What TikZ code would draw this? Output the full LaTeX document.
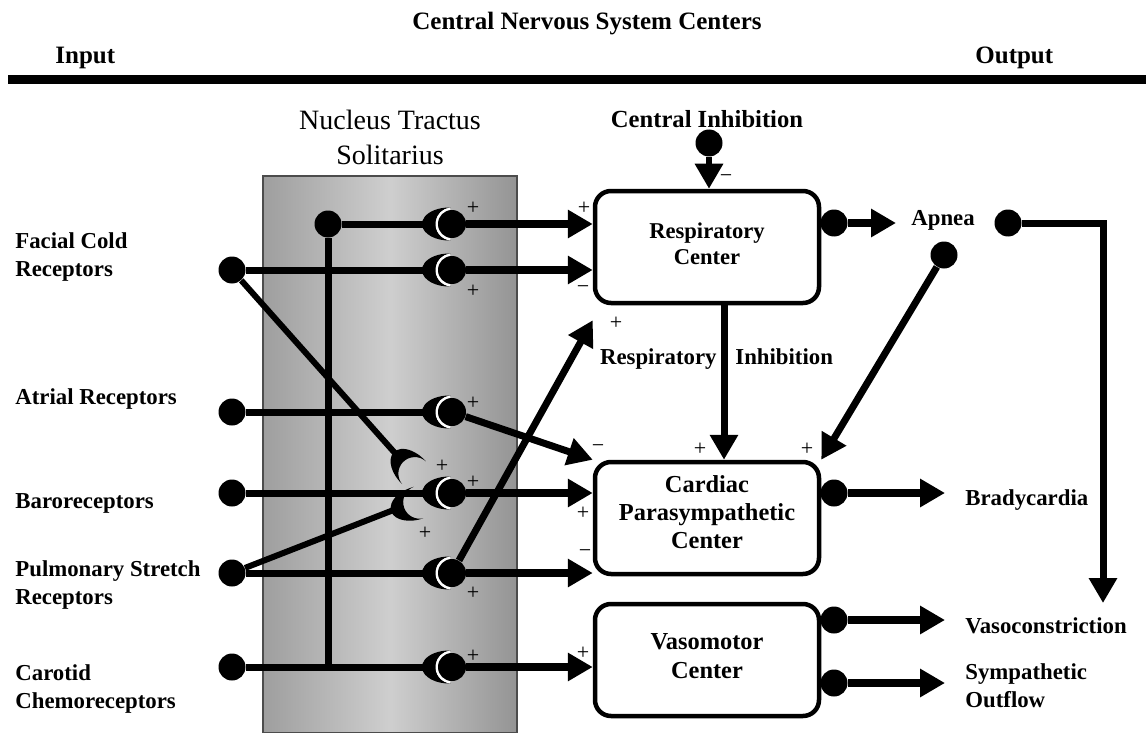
\documentclass[tikz,border=0pt]{standalone}
\usepackage{fontspec}
\setmainfont{Liberation Serif}
\usetikzlibrary{arrows.meta,backgrounds,positioning}
\tikzset{>={Triangle[length=12.5pt,width=13.5pt]}, % big solid heads
every node/.style={font=\bfseries\fontsize{11.4}{14.2}\selectfont},
heading/.style={font=\bfseries\fontsize{12.5}{15}\selectfont},
title/.style={font=\fontsize{14}{17.5}\selectfont, align=center},
dot/.style={circle, fill, inner sep=0pt, minimum size=13.5pt},
bulb/.style={dot, minimum size=14pt},
center box/.style={draw, line width=2.25pt, rounded corners=8pt, minimum width=112pt, minimum height=56pt, align=center,
  font=\bfseries\fontsize{12.2}{14.2}\selectfont},
lbl/.style={anchor=west, align=left, inner sep=0pt},
sign/.style={font=\fontsize{11}{12}\selectfont, inner sep=0pt},
feed/.style={line width=3.5pt}, % afferent fibres
relay/.style={->, line width=4pt}, % efferent fibres
cup/.pic={\fill (28.86,16.46) arc[start angle=86.05, end angle=273.95, x radius=27, y radius=16.5]
  arc[start angle=266.04, end angle=93.96, radius=16.5] -- cycle;},
cup gap/.pic={\pic {cup};
  \draw[white, line width=1.25pt] (30,0) ++(97:15.25) arc[start angle=97, end angle=263, radius=15.25];},
}
\begin{document}
\begin{tikzpicture}[x=0.5pt, y=-0.5pt]
\useasboundingbox (0,0) rectangle (1146,733);
\node[heading] (cns) at (587,24) {Central Nervous System Centers};
\node[heading, lbl] (input) at (55,58) {Input};
\node[heading, lbl] (output) at (975,58) {Output};
\draw[line width=4.5pt] (8,80) -- (1146,80);
\node[title] (nts) at (390,137) {Nucleus Tractus\\Solitarius};

% receptors
\node[lbl] (fcr-t) at (15,257) {Facial Cold\\Receptors};
\node[lbl] (ar-t) at (15,399) {Atrial Receptors};
\node[lbl] (br-t) at (15,503) {Baroreceptors};
\node[lbl] (psr-t) at (15,585) {Pulmonary Stretch\\Receptors};
\node[lbl] (cc-t) at (15,689) {Carotid\\Chemoreceptors};
\node[dot] (fcr) at (232,270) {};
\node[dot] (ar) at (232,412) {};
\node[dot] (br) at (232,493) {};
\node[dot] (psr) at (232,573) {};
\node[dot] (cc) at (232,667) {};
\node[dot] (cdot) at (328,224) {};

% synapses
\foreach \n/\y in {1/224,2/270,3/412,4/493,5/573,6/667}{
  \pic at (422,\y) {cup gap};
  \node[bulb] (s\n) at (452,\y) {};
}
\coordinate (p1) at (394,452);
\coordinate (p2) at (391,511);
\pic[rotate=-46] at (p1) {cup};
\pic[rotate=17] at (p2) {cup};

\begin{scope}[on background layer]
\draw[draw=black!70, line width=0.6pt, left color=black!38, right color=black!42, middle color=black!19] (263,176) rectangle (517,733);
\draw[feed] (fcr) -- (s2);
\draw[feed] (ar) -- (s3);
\draw[feed] (br) -- (s4);
\draw[feed] (psr) -- (s5);
\draw[feed] (cc) -- (s6);
\draw[feed] (cdot) -- (s1);
\draw[feed] (cdot) -- (cdot |- cc);
\draw[feed, line width=3pt, shorten >=-1.5pt] (fcr) -- (p1);
\draw[feed, line width=3pt, shorten >=-1.5pt] (psr) -- (p2);
\end{scope}

% centers
\node[center box, font=\bfseries\fontsize{11.3}{13}\selectfont, text depth=3pt] (resp) at (707,247) {Respiratory\\Center};
\node[center box, text depth=6pt, below=77.25pt of resp] (card) {Cardiac\\Parasympathetic\\Center};
\node[center box, text depth=4pt, below=12.75pt of card] (vaso) {Vasomotor\\Center};

\draw[relay] (s1) -- (s1 -| resp.west);
\draw[relay] (s2) -- (s2 -| resp.west);
\draw[relay, line width=3.5pt] (s3) -- (card.north west);
\draw[relay] (s4) -- (s4 -| card.west);
\draw[relay] (s5) -- (s5 -| card.west);
\draw[relay, line width=3.5pt] (s5) -- ([yshift=-7.5pt]resp.south west);
\draw[relay] (s6) -- (s6 -| vaso.west);

% central inhibition
\node[font=\bfseries\fontsize{12.3}{15}\selectfont] (ci-t) at (707,119) {Central Inhibition};
\node[dot] (ci) at (709,143) {};
\draw[relay, line width=3pt] (ci) -- (ci |- resp.north);
\node[lbl, anchor=east] (ri-l) at (717,359) {Respiratory};
\node[lbl, base right=9pt of ri-l] (ri-r) {Inhibition};
\draw[relay, line width=3.5pt] ([xshift=8.5pt]resp.south) -- ([xshift=8.5pt]card.north);

% outputs
\node[lbl] (apnea) at (911,220) {Apnea};
\node[lbl] (brady) at (965,500) {Bradycardia};
\node[lbl] (vasoc) at (965,626) {Vasoconstriction};
\node[lbl] (symp) at (965,686) {Sympathetic\\Outflow};
\node[dot] (r-out) at (834,223) {};
\node[dot] (ap1) at (1008,223) {};
\node[dot] (ap2) at (944,255) {};
\node[dot] (c-out) at (834,493) {};
\node[dot] (v-out1) at (834,620) {};
\node[dot] (v-out2) at (834,683) {};
\coordinate (vc-top) at (1103,603);
\draw[relay, shorten >=7.5pt] (r-out) -- (r-out -| apnea.west);
\draw[relay, line width=3.5pt] (ap1) -| (vc-top);
\draw[relay, line width=3.5pt] (ap2) -- (card.north east);
\draw[relay, shorten >=10pt] (c-out) -- (c-out -| brady.west);
\draw[relay, shorten >=10pt] (v-out1) -- (v-out1 -| vasoc.west);
\draw[relay, shorten >=10pt] (v-out2) -- (v-out2 -| symp.west);

% signs
\foreach \x/\y/\s [count=\i] in {473/208/+, 584/208/+, 473/291/+, 583/290/−, 616/323/+, 726/179/−,
  473/403/+, 598/449/−, 700/449/+, 807/449/+, 442/466/+, 473/482/+, 583/513/+, 425/533/+,
  473/593/+, 585/554/−, 473/656/+, 583/653/+}
  \node[sign] (sg\i) at (\x,\y) {\s};
\end{tikzpicture}
\end{document}
